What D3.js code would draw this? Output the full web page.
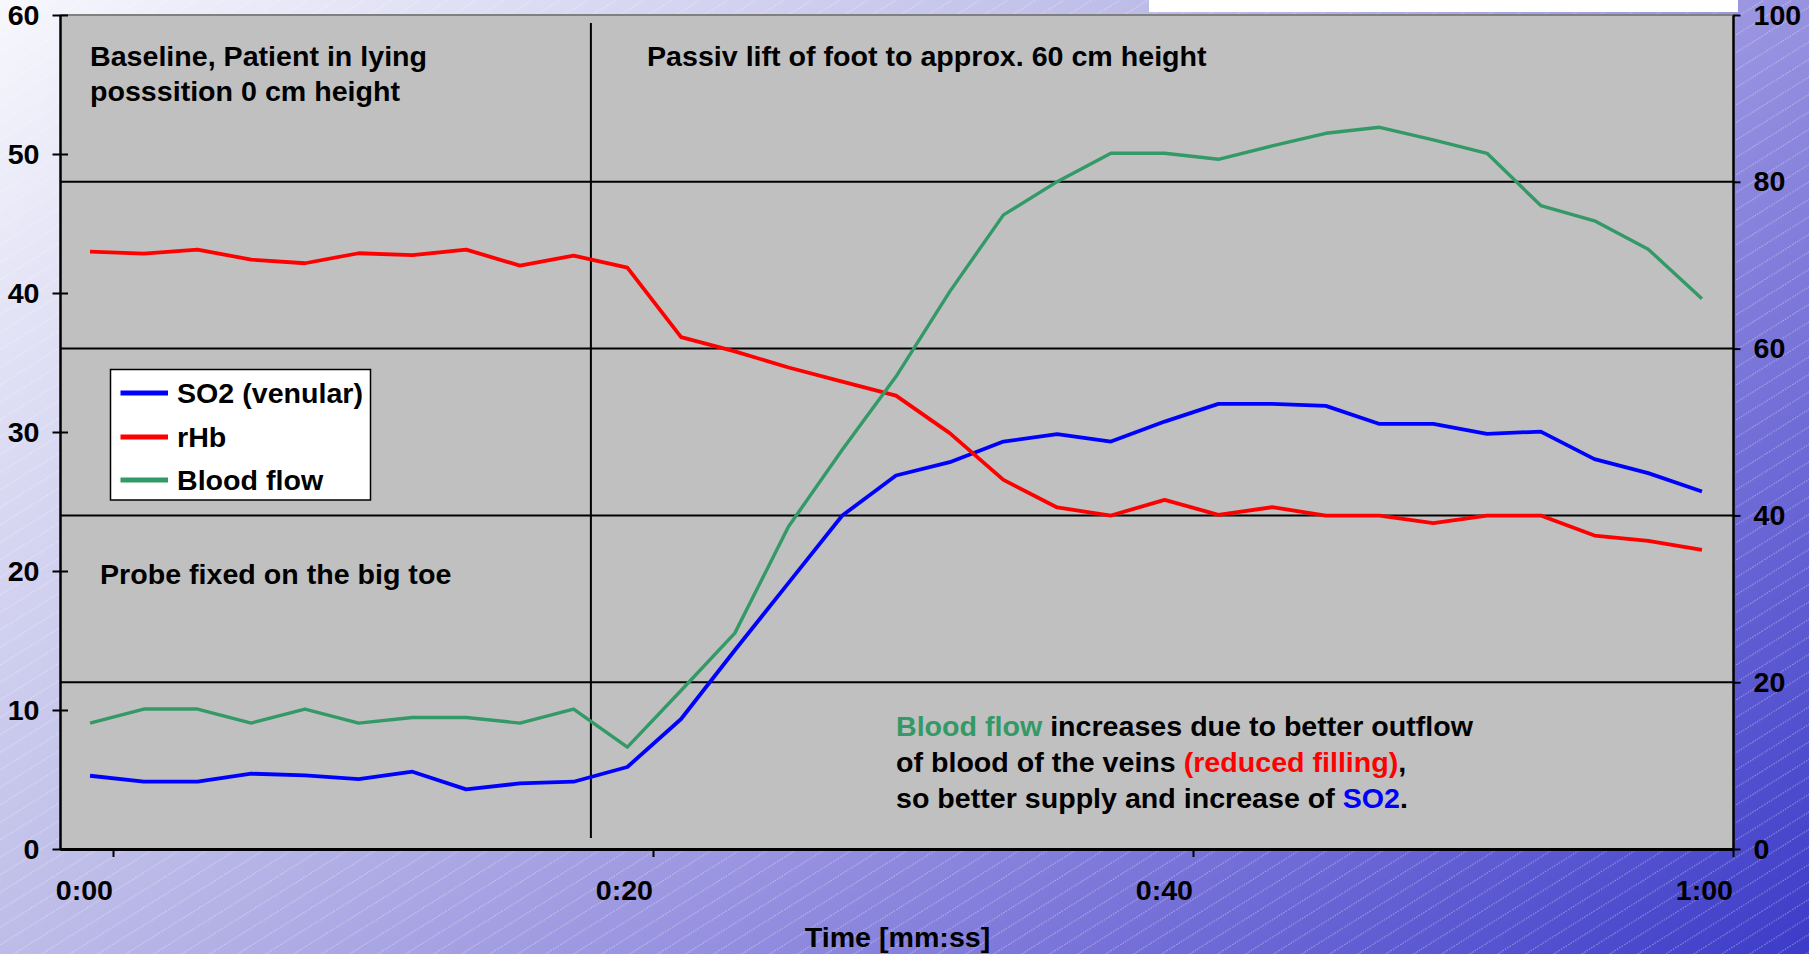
<!DOCTYPE html>
<html>
<head>
<meta charset="utf-8">
<script src="https://cdn.jsdelivr.net/npm/d3@7"></script>
<style>
  html, body { margin: 0; padding: 0; background: #fff; overflow: hidden; }
  svg { display: block; }
</style>
</head>
<body>
<svg id="chart" width="1809" height="954"></svg>
<script>
// ---------------- DATA ----------------
// time of each sample, in seconds
const timeSec = [-0.85, 1.14, 3.13, 5.12, 7.11, 9.10, 11.09, 13.08, 15.07, 17.06,
                 19.05, 21.04, 23.03, 25.02, 27.01, 29.00, 30.99, 32.98, 34.97, 36.96,
                 38.95, 40.94, 42.93, 44.92, 46.91, 48.90, 50.89, 52.88, 54.87, 56.86, 58.85];
const so2 = [5.27, 4.84, 4.84, 5.42, 5.29, 5.03, 5.56, 4.29, 4.72, 4.84,
             5.90, 9.35, 14.3, 19.15, 23.99, 26.87, 27.83, 29.31, 29.84, 29.31,
             30.75, 32.02, 32.02, 31.88, 30.58, 30.58, 29.87, 30.03, 28.05, 27.04, 25.72];
const rHb = [42.98, 42.83, 43.12, 42.40, 42.14, 42.86, 42.72, 43.12, 41.97, 42.69,
             41.83, 36.82, 35.8, 34.64, 33.63, 32.62, 29.92, 26.56, 24.57, 23.99,
             25.12, 24.04, 24.59, 23.99, 23.99, 23.44, 23.99, 23.99, 22.55, 22.17, 21.52];
const bloodFlow = [9.06, 10.07, 10.07, 9.06, 10.07, 9.06, 9.46, 9.46, 9.06, 10.07,
                   7.33, 11.4, 15.53, 23.2, 28.72, 33.99, 40.1, 45.62, 48.01, 50.05,
                   50.05, 49.62, 50.58, 51.49, 51.92, 51.01, 50.05, 46.29, 45.19, 43.15, 39.58];
const seriesNames = ["SO2 (venular)", "rHb", "Blood flow"];
const seriesColors = ["#0000FF", "#FF0000", "#339966"];
const leftTicks = [0, 10, 20, 30, 40, 50, 60];
const rightTicks = [0, 20, 40, 60, 80, 100];
const xTicks = [0, 20, 40, 60];
const xTickLabels = ["0:00", "0:20", "0:40", "1:00"];
const xTitle = "Time [mm:ss]";
const phaseChangeTime = 17.7;
const noteBaseline = ["Baseline, Patient in lying", "posssition 0 cm height"];
const noteLift = "Passiv lift of foot to approx. 60 cm height";
const noteProbe = "Probe fixed on the big toe";

// ---------------- LAYOUT ----------------
const W = 1809, H = 954;
const plot = { left: 60, right: 1733, top: 15, bottom: 849 };
const FONT = "'Liberation Sans', Arial, Helvetica, sans-serif";
const FS = 27, SX = 1.06;

const svg = d3.select("#chart");
const defs = svg.append("defs");

// background gradient
const grad = defs.append("linearGradient").attr("id", "bg")
  .attr("gradientUnits", "userSpaceOnUse")
  .attr("x1", 0).attr("y1", 0).attr("x2", 1210).attr("y2", 1453);
[[0, "#f7f7fd"], [0.39, "#bdbce8"], [0.61, "#9893e0"], [0.8, "#6c68d6"], [1, "#3b3bc8"]]
  .forEach(([o, c]) => grad.append("stop").attr("offset", o).attr("stop-color", c));

// diagonal hatch
const pat = defs.append("pattern").attr("id", "hatch")
  .attr("patternUnits", "userSpaceOnUse").attr("width", 28).attr("height", 17.5);
pat.append("path").attr("d", "M-2,18.75 L30,-1.25")
  .attr("stroke", "#ffffff").attr("stroke-opacity", 0.4).attr("stroke-width", 1)
  .attr("stroke-dasharray", "1.5 1.2").attr("fill", "none");

svg.append("rect").attr("width", W).attr("height", H).attr("fill", "url(#bg)");
svg.append("rect").attr("width", W).attr("height", H).attr("fill", "url(#hatch)");

// white strip at the top right
svg.append("rect").attr("x", 1149).attr("y", 0).attr("width", 589).attr("height", 12).attr("fill", "#ffffff");

// scales
const x = d3.scaleLinear().domain([-1.963, 60]).range([plot.left, plot.right]);
const yL = d3.scaleLinear().domain([0, 60]).range([plot.bottom, plot.top]);
const yR = d3.scaleLinear().domain([0, 100]).range([plot.bottom, plot.top]);

// plot area
svg.append("rect").attr("x", plot.left).attr("y", plot.top)
  .attr("width", plot.right - plot.left).attr("height", plot.bottom - plot.top)
  .attr("fill", "#C0C0C0");

// gridlines (right axis)
svg.append("g").selectAll("line").data(rightTicks.filter(v => v > 0 && v < 100)).join("line")
  .attr("x1", plot.left).attr("x2", plot.right)
  .attr("y1", d => yR(d)).attr("y2", d => yR(d))
  .attr("stroke", "#000").attr("stroke-width", 2);

// top border
svg.append("line").attr("x1", plot.left).attr("x2", plot.right)
  .attr("y1", plot.top).attr("y2", plot.top).attr("stroke", "#808080").attr("stroke-width", 2);

// phase change vertical line
svg.append("line").attr("x1", x(phaseChangeTime)).attr("x2", x(phaseChangeTime))
  .attr("y1", yL(59.42)).attr("y2", yL(0.79)).attr("stroke", "#000").attr("stroke-width", 2);

function txt(parent, px, py, anchor, size) {
  return parent.append("text")
    .attr("transform", `translate(${px},${py}) scale(${SX},1)`)
    .attr("text-anchor", anchor || "start")
    .attr("font-family", FONT).attr("font-weight", "bold")
    .attr("font-size", size || FS).attr("fill", "#000");
}

// annotations
const ann = svg.append("g");
txt(ann, 90, 65.5).text(noteBaseline[0]);
txt(ann, 90, 100.5).text(noteBaseline[1]);
txt(ann, 647, 65.5).text(noteLift);
txt(ann, 100, 584).text(noteProbe);

const l1 = txt(ann, 896, 736);
l1.append("tspan").attr("fill", seriesColors[2]).text("Blood flow");
l1.append("tspan").text(" increases due to better outflow");
const l2 = txt(ann, 896, 772);
l2.append("tspan").text("of blood of the veins ");
l2.append("tspan").attr("fill", seriesColors[1]).text("(reduced filling)");
l2.append("tspan").text(",");
const l3 = txt(ann, 896, 808);
l3.append("tspan").text("so better supply and increase of ");
l3.append("tspan").attr("fill", seriesColors[0]).text("SO2");
l3.append("tspan").text(".");

// series lines
const seriesData = [so2, rHb, bloodFlow];
const line = d3.line().x((d, i) => x(timeSec[i])).y(d => yL(d));
svg.append("g").selectAll("path").data(seriesData).join("path")
  .attr("d", d => line(d))
  .attr("fill", "none")
  .attr("stroke", (d, i) => seriesColors[i])
  .attr("stroke-width", (d, i) => i === 2 ? 3.4 : 3.8)
  .attr("stroke-linejoin", "round");

// axes
const axL = svg.append("g").attr("transform", `translate(${plot.left},0)`)
  .call(d3.axisLeft(yL).tickValues(leftTicks).tickSizeOuter(0).tickSizeInner(7.5).tickFormat(""));
axL.select(".domain").attr("stroke", "#000").attr("stroke-width", 2.5);
axL.selectAll(".tick line").attr("x1", 8).attr("x2", -7.5).attr("stroke", "#000").attr("stroke-width", 2);

const axR = svg.append("g").attr("transform", `translate(${plot.right},0)`)
  .call(d3.axisRight(yR).tickValues(rightTicks).tickSizeOuter(0).tickSizeInner(7.5).tickFormat(""));
axR.select(".domain").attr("stroke", "#000").attr("stroke-width", 2.5);
axR.selectAll(".tick line").attr("stroke", "#000").attr("stroke-width", 2);

const axB = svg.append("g").attr("transform", `translate(0,${plot.bottom})`)
  .call(d3.axisBottom(x).tickValues(xTicks).tickSizeOuter(0).tickSizeInner(8).tickFormat(""));
axB.select(".domain").attr("stroke", "#000").attr("stroke-width", 3);
axB.selectAll(".tick line").attr("stroke", "#000").attr("stroke-width", 2);

// tick labels
const labs = svg.append("g");
leftTicks.forEach(v => txt(labs, 39.5, yL(v) + 9.5, "end").text(v));
rightTicks.forEach(v => txt(labs, 1753.5, yR(v) + 9.5, "start").text(v));
xTicks.forEach((v, i) => txt(labs, x(v), 900, "end").text(xTickLabels[i]));
txt(labs, 897.5, 947, "middle").text(xTitle);

// legend
const lg = svg.append("g");
lg.append("rect").attr("x", 110.5).attr("y", 369.5).attr("width", 260).attr("height", 130.5)
  .attr("fill", "#fff").attr("stroke", "#000").attr("stroke-width", 1.5);
const legY = [393, 437, 480];
seriesNames.forEach((n, i) => {
  lg.append("line").attr("x1", 120.5).attr("x2", 168).attr("y1", legY[i]).attr("y2", legY[i])
    .attr("stroke", seriesColors[i]).attr("stroke-width", 5);
  txt(lg, 177, legY[i] + 10, "start").text(n);
});
</script>
</body>
</html>
